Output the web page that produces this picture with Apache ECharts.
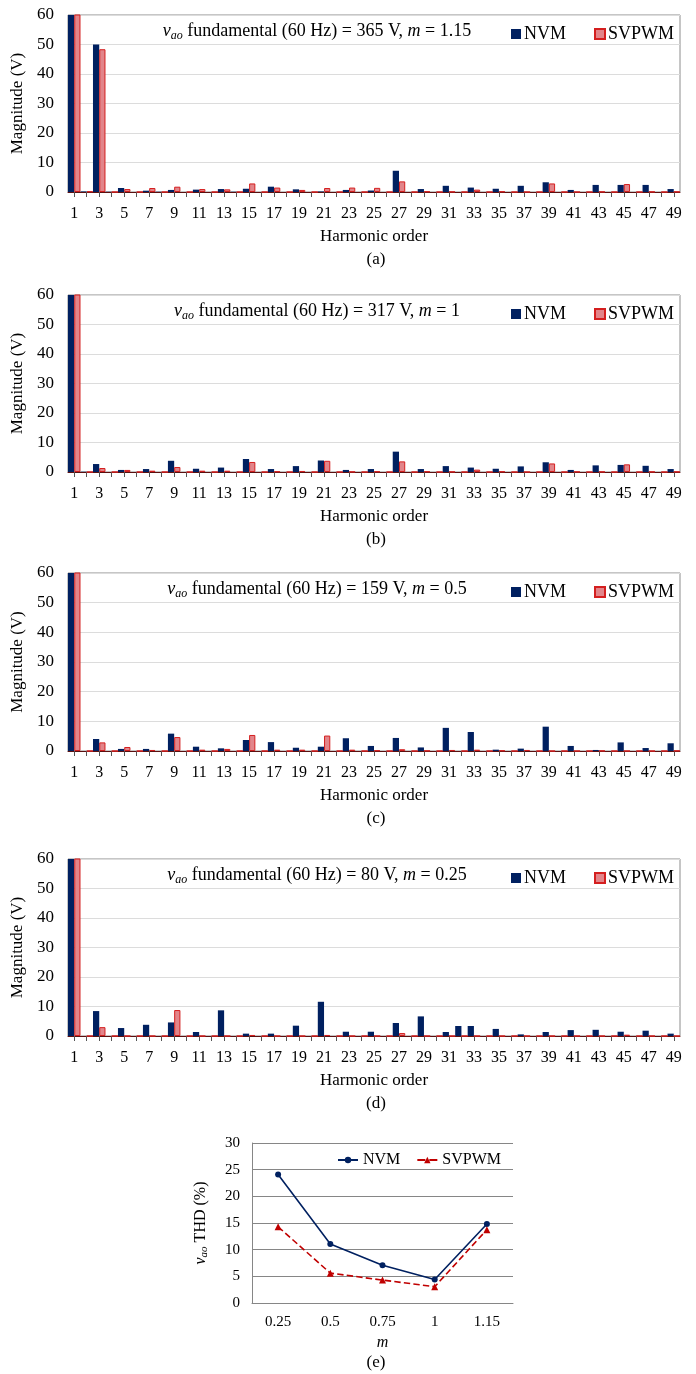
<!DOCTYPE html>
<html><head><meta charset="utf-8">
<script src="https://cdn.jsdelivr.net/npm/echarts@6/dist/echarts.min.js"></script>
<style>
html,body{margin:0;padding:0;background:#fff;}
#c1{position:absolute;left:0;top:0;width:696px;height:1120px;}
#c2{position:absolute;left:0;top:1120px;width:696px;height:254px;}
</style>
</head><body><div id="c1"></div><div id="c2"></div>
<script>
// ---------- DATA ----------
const harmonics = ['1','2','3','4','5','6','7','8','9','10','11','12','13','14','15','16','17','18','19','20','21','22','23','24','25','26','27','28','29','30','31','32','33','34','35','36','37','38','39','40','41','42','43','44','45','46','47','48','49'];

// (a) m = 1.15
const nvmA =   [365,0.2,50.0,0.1,1.35,0,0.45,0.1,0.7,0,0.8,0,1.0,0.1,1.1,0,1.8,0,0.9,0,0.2,0,0.7,0,0.5,0,7.2,0,1.0,0,2.1,0,1.5,0,1.1,0,2.1,0,3.3,0,0.7,0,2.4,0,2.4,0,2.4,0,1.0];
const svpwmA = [365,0.2,48.4,0,1.0,0,1.35,0,1.8,0,1.0,0,0.9,0,2.9,0,1.5,0,0.7,0,1.35,0,1.5,0,1.4,0,3.6,0,0.2,0,0.1,0,0.8,0,0.2,0,0,0,2.9,0,0,0,0.1,0,2.7,0,0.1,0,0.1];
// (b) m = 1
const nvmB =   [317,0.1,2.7,0,0.7,0,1.0,0,3.8,0,1.1,0,1.5,0,4.4,0,1.0,0,2.0,0,3.9,0,0.7,0,1.0,0,6.9,0,1.0,0,2.0,0,1.5,0,1.1,0,1.9,0,3.3,0,0.7,0,2.25,0,2.4,0,2.1,0,1.0];
const svpwmB = [317,0,1.35,0,0.7,0,0.45,0,1.7,0,0.45,0,0.45,0,3.4,0,0.2,0,0.35,0,3.8,0,0.1,0,0.2,0,3.6,0,0.2,0,0.1,0,0.8,0,0.2,0,0,0,2.9,0,0.1,0,0.1,0,2.6,0,0.1,0,0.1];
// (c) m = 0.5
const nvmC =   [159,0,4.05,0,0.7,0,0.7,0,5.85,0,1.45,0,0.9,0,3.7,0,3.0,0,1.1,0,1.45,0,4.3,0,1.7,0,4.4,0,1.2,0,7.8,0,6.4,0,0.45,0,0.8,0,8.2,0,1.7,0,0.35,0,2.9,0,1.0,0,2.6];
const svpwmC = [159,0,2.9,0,1.35,0,0.35,0,4.7,0,0.45,0,0.7,0,5.4,0,0.45,0,0.45,0,5.2,0,0.45,0,0.2,0,0.6,0,0.1,0,0.35,0,0.45,0,0.2,0,0.35,0,0,0,0,0,0.1,0,0,0,0,0,0.1];
// (d) m = 0.25
const nvmD =   [80,0,8.45,0,2.7,0,3.8,0,4.6,0,1.35,0,8.7,0,0.8,0,0.8,0,3.5,0,11.6,0,1.45,0,1.45,0,4.4,0,6.65,0,1.35,3.4,3.4,0,2.4,0,0.55,0,1.35,0,2.0,0,2.1,0,1.45,0,1.8,0,0.8];
const svpwmD = [80,0,3.0,0,0,0,0,0,8.8,0,0,0,0,0,0.35,0,0,0,0,0,0.35,0,0,0,0,0,1.0,0,0,0,0,0,0,0,0,0,0,0,0,0,0,0,0,0,0.45,0,0,0,0];

const fundamentals = ['365','317','159','80'];
const mValues = ['1.15','1','0.5','0.25'];
const panelLabels = ['(a)','(b)','(c)','(d)'];
const magTicks = [0,10,20,30,40,50,60];

// (e) THD
const mCats = ['0.25','0.5','0.75','1','1.15'];
const thdNVM =   [24.1, 11.06, 7.06, 4.4, 14.8];
const thdSVPWM = [14.3, 5.6, 4.3, 3.06, 13.75];
const thdTicks = [0,5,10,15,20,25,30];

// ---------- LAYOUT / STYLE ----------
const F = 'Liberation Serif';
const NAVY = '#002060';
const PINK = '#e2858a';
const RED = '#d41f1f';
const gridTops = [15, 295, 573, 859];
const gridH = [177, 177, 178, 177];
const nvmSets = [nvmA, nvmB, nvmC, nvmD];
const svSets = [svpwmA, svpwmB, svpwmC, svpwmD];

const richT = {
  v: {fontFamily: F, fontSize: 18, fontStyle: 'italic', color: '#000'},
  s: {fontFamily: F, fontSize: 12, fontStyle: 'italic', color: '#000', padding: [9, 0, 0, 0]},
  n: {fontFamily: F, fontSize: 18, color: '#000'},
  i: {fontFamily: F, fontSize: 18, fontStyle: 'italic', color: '#000'}
};

const grids = [], xAxes = [], yAxes = [], series = [], legends = [], graphics = [];
for (let k = 0; k < 4; k++) {
  const top = gridTops[k];
  grids.push({left: 68, top: top, width: 612, height: gridH[k], show: true, borderColor: '#8c8c8c', borderWidth: 1, backgroundColor: 'transparent'});
  xAxes.push({
    type: 'category', gridIndex: k, data: harmonics,
    axisLine: {lineStyle: {color: '#5a1010', width: 1}},
    axisTick: {show: true, interval: 0, alignWithLabel: true, length: 5, lineStyle: {color: '#555'}},
    axisLabel: {interval: 1, fontFamily: F, fontSize: 16, color: '#000', margin: 14},
    name: 'Harmonic order', nameLocation: 'middle', nameGap: 36,
    nameTextStyle: {fontFamily: F, fontSize: 17, color: '#000'}
  });
  yAxes.push({
    type: 'value', gridIndex: k, min: magTicks[0], max: magTicks[magTicks.length - 1], interval: 10,
    axisLine: {show: false}, axisTick: {show: false},
    splitLine: {lineStyle: {color: '#dcdcdc', width: 1}},
    axisLabel: {fontFamily: F, fontSize: 17, color: '#000', margin: 14},
    name: 'Magnitude (V)', nameLocation: 'middle', nameGap: 40, nameRotate: 90,
    nameTextStyle: {fontFamily: F, fontSize: 17, color: '#000'}
  });
  series.push({
    name: 'NVM', type: 'bar', xAxisIndex: k, yAxisIndex: k, data: nvmSets[k],
    barGap: '0%', barCategoryGap: '0%', clip: true,
    itemStyle: {color: NAVY}
  });
  series.push({
    name: 'SVPWM', type: 'bar', xAxisIndex: k, yAxisIndex: k, data: svSets[k],
    barGap: '0%', barCategoryGap: '0%', clip: true,
    itemStyle: {color: PINK, borderColor: RED, borderWidth: 1}
  });
  legends.push({
    left: 506, top: top + 5, itemWidth: 10, itemHeight: 10, itemGap: 28,
    textStyle: {fontFamily: F, fontSize: 18, color: '#000', padding: [0, 0, 0, -2]},
    data: [{name: 'NVM', icon: 'rect'}, {name: 'SVPWM', icon: 'rect'}],
    selectedMode: false
  });
  graphics.push({
    type: 'text', x: 317, y: top + 16.5,
    style: {
      text: '{v|v}{s|ao}{n| fundamental (60 Hz) = ' + fundamentals[k] + ' V, }{i|m}{n| = ' + mValues[k] + '}',
      rich: richT, align: 'center', verticalAlign: 'middle'
    }
  });
  graphics.push({
    type: 'text', x: 376, y: top + gridH[k] + 68,
    style: {text: panelLabels[k], fontFamily: F, fontSize: 17, fill: '#000', align: 'center', verticalAlign: 'middle'}
  });
}

const c1 = echarts.init(document.getElementById('c1'), null, {renderer: 'canvas'});
c1.setOption({
  animation: false, backgroundColor: '#fff',
  grid: grids, xAxis: xAxes, yAxis: yAxes, series: series, legend: legends, graphic: graphics
});

const c2 = echarts.init(document.getElementById('c2'), null, {renderer: 'canvas'});
c2.setOption({
  animation: false, backgroundColor: '#fff',
  grid: {left: 252, top: 23, width: 261, height: 160},
  legend: {
    left: 332, top: 27, itemWidth: 20, itemHeight: 8, itemGap: 16, selectedMode: false,
    textStyle: {fontFamily: F, fontSize: 16, color: '#000'},
    data: ['NVM', 'SVPWM']
  },
  xAxis: {
    type: 'category', data: mCats, boundaryGap: true,
    axisLine: {lineStyle: {color: '#868686'}}, axisTick: {show: false},
    axisLabel: {fontFamily: F, fontSize: 15, color: '#000', margin: 12},
    name: 'm', nameLocation: 'middle', nameGap: 22,
    nameTextStyle: {fontFamily: F, fontSize: 16, fontStyle: 'italic', color: '#000'}
  },
  yAxis: {
    type: 'value', min: thdTicks[0], max: thdTicks[thdTicks.length - 1], interval: 5,
    axisLine: {show: true, lineStyle: {color: '#868686'}}, axisTick: {show: false},
    splitLine: {lineStyle: {color: '#868686', width: 1}},
    axisLabel: {fontFamily: F, fontSize: 15, color: '#000', margin: 12},
    name: '{v|v}{s|ao}{n| THD (%)}', nameLocation: 'middle', nameGap: 42, nameRotate: 90,
    nameTextStyle: {
      rich: {
        v: {fontFamily: F, fontSize: 16, fontStyle: 'italic', color: '#000'},
        s: {fontFamily: F, fontSize: 11, fontStyle: 'italic', color: '#000', padding: [8, 0, 0, 0]},
        n: {fontFamily: F, fontSize: 16, color: '#000'}
      }
    }
  },
  series: [
    {name: 'NVM', type: 'line', data: thdNVM, symbol: 'circle', symbolSize: 6,
     itemStyle: {color: NAVY}, lineStyle: {color: NAVY, width: 1.6}},
    {name: 'SVPWM', type: 'line', data: thdSVPWM, symbol: 'triangle', symbolSize: 7,
     itemStyle: {color: '#c00000'}, lineStyle: {color: '#c00000', width: 1.6, type: 'dashed'}}
  ],
  graphic: [{
    type: 'text', x: 376, y: 243,
    style: {text: '(e)', fontFamily: F, fontSize: 17, fill: '#000', align: 'center', verticalAlign: 'middle'}
  }]
});
</script>
</body></html>
